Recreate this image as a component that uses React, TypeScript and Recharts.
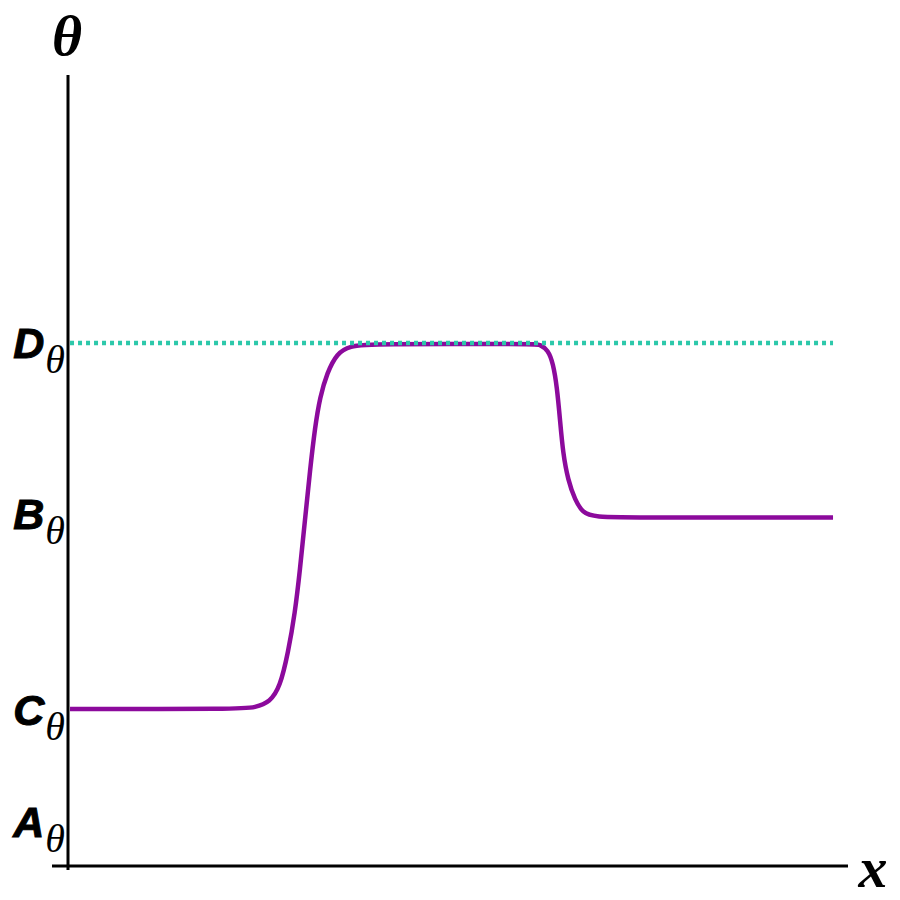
// Theta profile along x: step up to D, down to B, with D level marked
import { LineChart, Line, XAxis, YAxis, ReferenceLine, Customized } from 'recharts';

// curve (x and theta in 0..100 plot units)
const curveX = [
  0.26, 22.05, 23.97, 25.9, 27.18, 28.21, 29.1, 29.74, 30.38, 31.03, 31.67, 32.31,
  33.21, 34.49, 36.15, 38.72, 59.87, 60.51, 61.54, 62.18, 62.69, 63.08, 63.46,
  64.1, 65.0, 66.03, 67.31, 73.33, 98.08,
];
const curveY = [
  19.85, 19.85, 20.04, 20.73, 22.63, 26.93, 31.98, 37.42, 43.74, 50.06, 55.5, 59.29,
  62.33, 64.85, 65.74, 65.99, 65.99, 65.93, 65.23, 63.59, 60.56, 56.38, 52.21,
  48.8, 46.27, 44.63, 44.12, 44.06, 44.06,
];

// dotted D level
const levelX = [0.26, 98.08];
const levelY = 66.12;

// y tick labels
const tickValues = [5.56, 19.7, 44.5, 66.12];
const tickNames = ['A', 'C', 'B', 'D'];

const curveData = curveX.map((x, i) => ({ x, y: curveY[i] }));
const levelData = levelX.map(x => ({ x, y: levelY }));

const PURPLE = '#8c0a9c';
const TEAL = '#2dc8aa';

function ThetaTick(props: any) {
  const { y, payload } = props;
  const name = tickNames[tickValues.indexOf(payload.value)];
  return (
    <text x={65} y={y + 15} textAnchor="end" fill="#000">
      <tspan
        fontFamily="Liberation Sans"
        fontWeight="bold"
        fontStyle="italic"
        fontSize={43}
        stroke="#000"
        strokeWidth={1}
      >
        {name}
      </tspan>
      <tspan fontFamily="Liberation Serif" fontStyle="italic" fontSize={40} dy={15} dx={1}>
        θ
      </tspan>
    </text>
  );
}

function AxisTitles() {
  return (
    <g fontFamily="Liberation Serif" fontWeight="bold" fontStyle="italic" fill="#000">
      <text x={67} y={55} textAnchor="middle" fontSize={58}>θ</text>
      <text x={873} y={887} textAnchor="middle" fontSize={58}>x</text>
    </g>
  );
}

export default function App() {
  return (
    <div style={{ position: 'absolute', left: 0, top: 0, background: '#fff' }}>
      <LineChart width={900} height={900} margin={{ top: 75, right: 52, bottom: 34, left: 8 }}>
        <XAxis type="number" dataKey="x" domain={[0, 100]} hide />
        <YAxis
          type="number"
          domain={[0, 100]}
          ticks={tickValues}
          width={60}
          axisLine={false}
          tickLine={false}
          tick={ThetaTick}
          interval={0}
        />
        <ReferenceLine
          segment={[{ x: -2.05, y: 0 }, { x: 100, y: 0 }]}
          stroke="#000"
          strokeWidth={3}
          ifOverflow="visible"
        />
        <ReferenceLine
          segment={[{ x: 0, y: -0.5 }, { x: 0, y: 100 }]}
          stroke="#000"
          strokeWidth={3}
          ifOverflow="visible"
        />
        <Line
          data={curveData}
          dataKey="y"
          type="basis"
          stroke={PURPLE}
          strokeWidth={4.5}
          dot={false}
          isAnimationActive={false}
        />
        <Line
          data={levelData}
          dataKey="y"
          type="linear"
          stroke={TEAL}
          strokeWidth={4.5}
          strokeDasharray="4 4"
          dot={false}
          isAnimationActive={false}
        />
        <Customized component={AxisTitles} />
      </LineChart>
    </div>
  );
}
